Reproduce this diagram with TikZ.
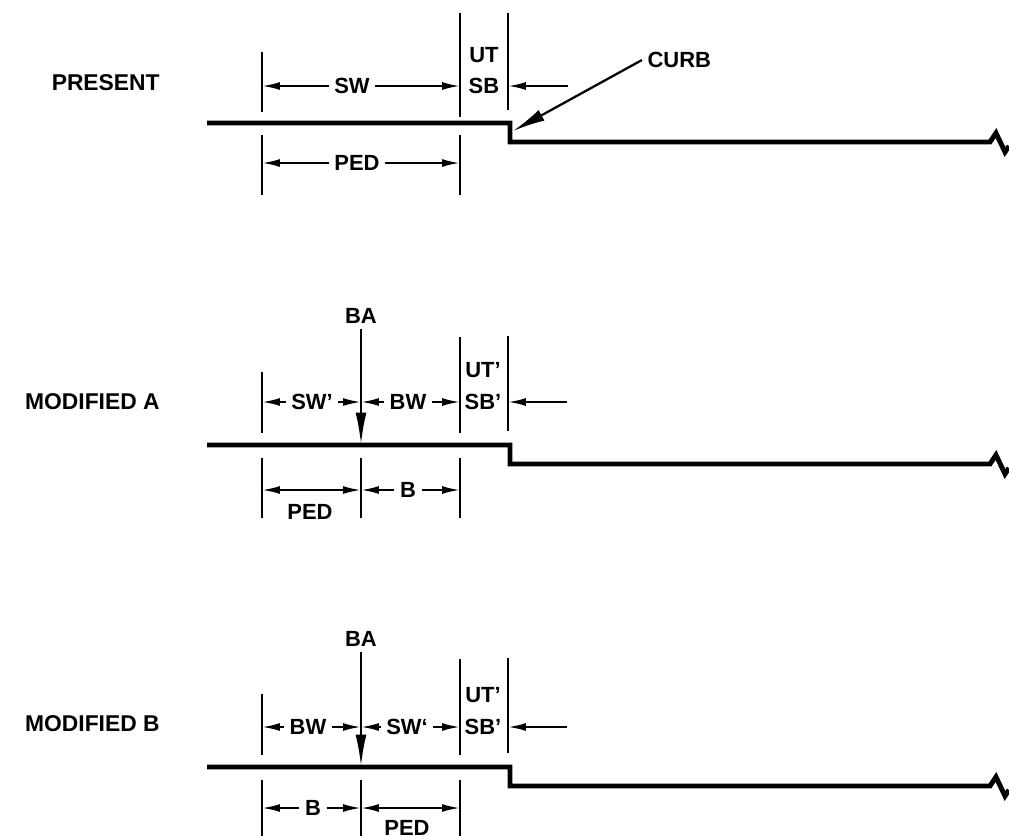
\documentclass[tikz,border=0pt]{standalone}
\usepackage{fontspec}
\setmainfont{Liberation Sans}
\usetikzlibrary{arrows.meta}
\tikzset{curb/.style={line width=2.8pt, line join=miter}}
\tikzset{ext/.style={line width=1.2pt}}
\tikzset{dimarrow/.style={line width=1.2pt, -{Latex[length=3.6mm,width=1.6mm]}}}
\tikzset{dimboth/.style={line width=1.2pt, {Latex[length=3.6mm,width=1.6mm]}-{Latex[length=3.6mm,width=1.6mm]}}}
\tikzset{baarrow/.style={line width=1.5pt, -{Latex[length=6.5mm,width=2.2mm]}}}
\tikzset{leader/.style={line width=1.3pt, -{Latex[length=6.5mm,width=2.4mm]}}}
\tikzset{lbl/.style={font=\bfseries\fontsize{12.5}{14}\selectfont, inner sep=3pt}}
\tikzset{rowlbl/.style={font=\bfseries\fontsize{13}{15}\selectfont, anchor=east, inner sep=0pt}}

\begin{document}
\begin{tikzpicture}[x=0.02cm,y=-0.02cm]
\useasboundingbox (0,0) rectangle (1009,836);
% extension line positions
\coordinate (e1) at (262,0);
\coordinate (e2) at (460,0);
\coordinate (e3) at (508,0);
\coordinate (eb) at (361,0);

%% present
\node[rowlbl] (present) at (160,83) {PRESENT};
\draw[curb] (207,123) -- (510,123) -- (510,142) -- (990,142) -- (996,133) -- (1005,152) -- (1009,146);
\draw[ext] (262,52) -- (262,112);
\draw[ext] (460,13) -- (460,117);
\draw[ext] (508,13) -- (508,110);
\draw[ext] (262,135) -- (262,195);
\draw[ext] (460,135) -- (460,195);
\node[lbl] (sw) at (352,86) {SW};
\draw[dimarrow] (sw.west) -- (sw.west -| e1);
\draw[dimarrow] (sw.east) -- (sw.east -| e2);
\node[lbl] (ut) at (484,55) {UT};
\node[lbl] (sb) at (484,86) {SB};
\coordinate (ptr) at (568,86);
\draw[dimarrow] (ptr) -- (ptr -| e3);
\node[lbl] (ped) at (357,163) {PED};
\draw[dimarrow] (ped.west) -- (ped.west -| e1);
\draw[dimarrow] (ped.east) -- (ped.east -| e2);
\node[lbl, anchor=west] (curblbl) at (642,60) {CURB};
\coordinate (corner) at (513,131);
\draw[leader] (curblbl.west) -- (corner);

%% modified A
\node[rowlbl] (moda) at (160,402) {MODIFIED A};
\draw[curb] (207,445) -- (510,445) -- (510,464) -- (990,464) -- (996,455) -- (1005,474) -- (1009,468);
\draw[ext] (262,372) -- (262,433);
\draw[ext] (460,337) -- (460,433);
\draw[ext] (508,336) -- (508,431);
\draw[ext] (262,458) -- (262,518);
\draw[ext] (361,458) -- (361,518);
\draw[ext] (460,458) -- (460,518);
\node[lbl] (baa) at (361,316) {BA};
\coordinate (basa) at (361,445);
\draw[baarrow] (baa.south) -- (basa);
\node[lbl] (swa) at (312,402) {SW’};
\draw[dimarrow] (swa.west) -- (swa.west -| e1);
\draw[dimarrow] (swa.east) -- (swa.east -| eb);
\node[lbl] (bwa) at (408,402) {BW};
\draw[dimarrow] (bwa.west) -- (bwa.west -| eb);
\draw[dimarrow] (bwa.east) -- (bwa.east -| e2);
\node[lbl] (uta) at (483,370) {UT’};
\node[lbl] (sba) at (483,402) {SB’};
\coordinate (ptra) at (567,402);
\draw[dimarrow] (ptra) -- (ptra -| e3);
\coordinate (pa1) at (262,490);
\coordinate (pa2) at (361,490);
\draw[dimboth] (pa1) -- (pa2);
\node[lbl] (bda) at (408,490) {B};
\draw[dimarrow] (bda.west) -- (bda.west -| eb);
\draw[dimarrow] (bda.east) -- (bda.east -| e2);
\node[lbl] (peda) at (310,512) {PED};

%% modified B
\node[rowlbl] (modb) at (160,724) {MODIFIED B};
\draw[curb] (207,767) -- (510,767) -- (510,786) -- (990,786) -- (996,777) -- (1005,796) -- (1009,790);
\draw[ext] (262,694) -- (262,755);
\draw[ext] (460,659) -- (460,755);
\draw[ext] (508,658) -- (508,753);
\draw[ext] (262,780) -- (262,840);
\draw[ext] (361,780) -- (361,840);
\draw[ext] (460,780) -- (460,840);
\node[lbl] (bab) at (361,639) {BA};
\coordinate (basb) at (361,767);
\draw[baarrow] (bab.south) -- (basb);
\node[lbl] (bwb) at (308,727) {BW};
\draw[dimarrow] (bwb.west) -- (bwb.west -| e1);
\draw[dimarrow] (bwb.east) -- (bwb.east -| eb);
\node[lbl] (swb) at (407,727) {SW‘};
\draw[dimarrow] (swb.west) -- (swb.west -| eb);
\draw[dimarrow] (swb.east) -- (swb.east -| e2);
\node[lbl] (utb) at (483,695) {UT’};
\node[lbl] (sbb) at (483,727) {SB’};
\coordinate (ptrb) at (567,727);
\draw[dimarrow] (ptrb) -- (ptrb -| e3);
\node[lbl] (bdb) at (313,808) {B};
\draw[dimarrow] (bdb.west) -- (bdb.west -| e1);
\draw[dimarrow] (bdb.east) -- (bdb.east -| eb);
\coordinate (pb1) at (361,808);
\coordinate (pb2) at (460,808);
\draw[dimboth] (pb1) -- (pb2);
\node[lbl] (pedb) at (407,828) {PED};
\end{tikzpicture}
\end{document}
